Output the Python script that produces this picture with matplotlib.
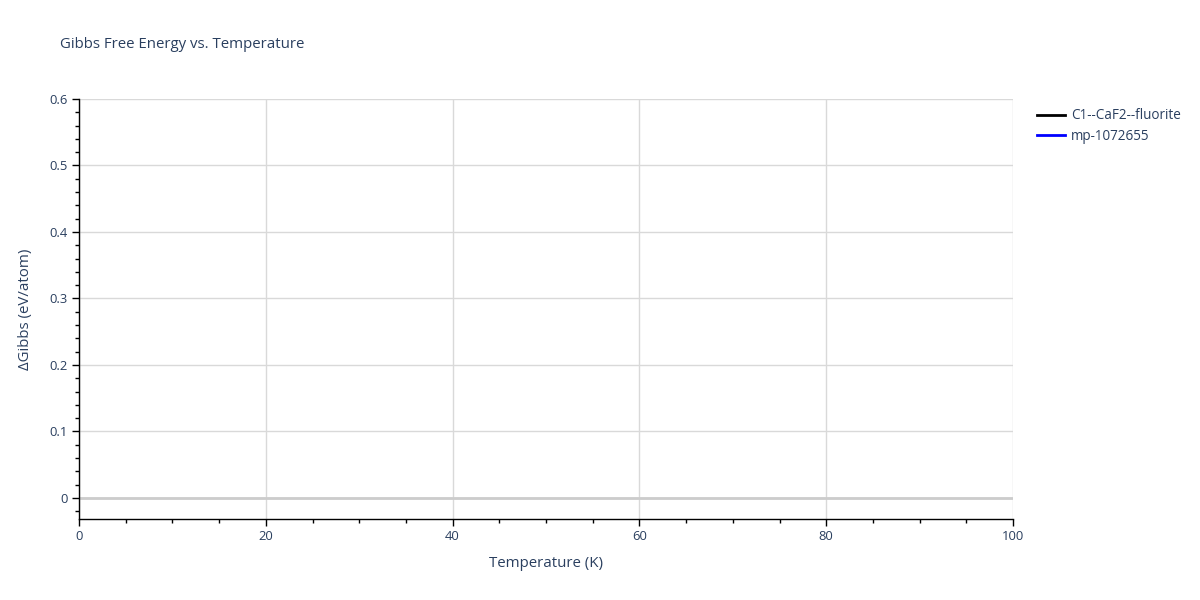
import numpy as np
from matplotlib import pyplot as plt
from matplotlib.ticker import MultipleLocator
from matplotlib.lines import Line2D

plt.rcParams['font.family'] = ['Open Sans', 'DejaVu Sans']

# the traces in the reference carry no visible points
names = ['C1--CaF2--fluorite', 'mp-1072655']
colors = ['black', 'blue']
temps = [[], []]
gibbs = [[], []]

TXT = '#2a3f5f'
PX = 72.0 / 100  # px -> pt at dpi 100

fig = plt.figure(figsize=(12, 6), dpi=100)
ax = fig.add_axes([79 / 1200, 1 - 519 / 600, (1013 - 79) / 1200, (519 - 99) / 600])

for t, g, c, n in zip(temps, gibbs, colors, names):
    ax.plot(t, g, color=c, lw=2, label=n)

ax.set_xlim(0, 100)
ax.set_ylim(-0.0316, 0.6)
ax.xaxis.set_major_locator(MultipleLocator(20))
ax.xaxis.set_minor_locator(MultipleLocator(5))
ax.yaxis.set_major_locator(MultipleLocator(0.1))
ax.yaxis.set_minor_locator(MultipleLocator(0.02))
ax.yaxis.set_major_formatter(plt.FuncFormatter(lambda v, p: '0' if abs(v) < 1e-9 else '%.1f' % v))

ax.grid(True, which='major', color='#d9d9d9', lw=1)
ax.axhline(0, color='#cccccc', lw=2, zorder=1)
ax.set_axisbelow(True)

for s in ['top', 'right']:
    ax.spines[s].set_visible(False)
for s in ['left', 'bottom']:
    ax.spines[s].set_color('black')
    ax.spines[s].set_linewidth(1)

ax.tick_params(which='major', direction='out', length=5, width=1, color='black',
               labelcolor=TXT, labelsize=13 * PX, pad=3)
ax.tick_params(which='minor', direction='out', length=3, width=1, color='black')

ax.set_xlabel('Temperature (K)', fontsize=15 * PX, color=TXT, labelpad=9)
ax.set_ylabel('ΔGibbs (eV/atom)', fontsize=15 * PX, color=TXT, labelpad=12)
fig.text(60 / 1200, 1 - 45 / 600, 'Gibbs Free Energy vs. Temperature',
         fontsize=15 * PX, color=TXT, va='center', ha='left')

handles = [Line2D([], [], color=c, lw=2) for c in colors]
leg = fig.legend(handles, names, loc='upper left', bbox_to_anchor=(1032 / 1200, 1 - 103 / 600),
                 frameon=False, fontsize=13.5 * PX, handlelength=2.05, handletextpad=0.45,
                 labelspacing=0.38, borderaxespad=0)
for t in leg.get_texts():
    t.set_color(TXT)

fig.savefig('out.png', dpi=100)
